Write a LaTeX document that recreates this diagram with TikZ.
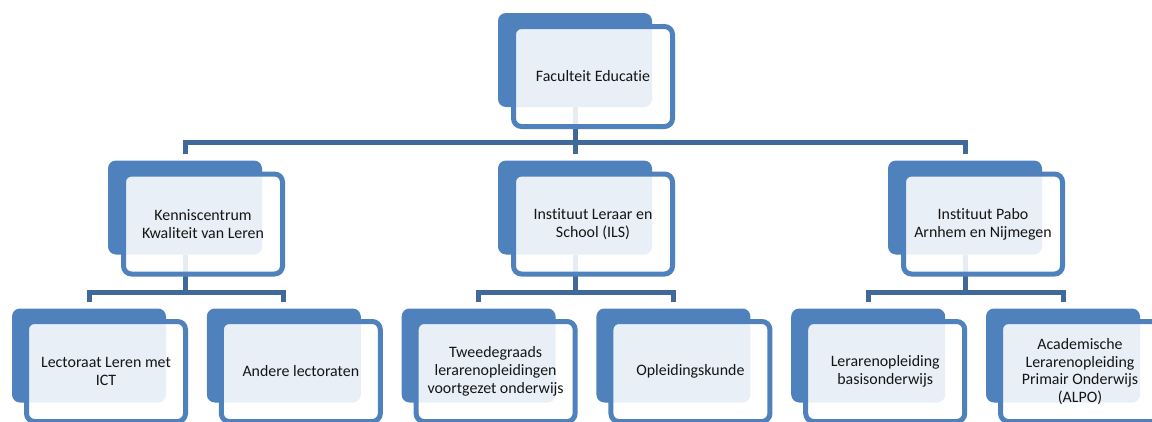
\documentclass[tikz,border=0pt]{standalone}
\usepackage{fontspec}
\setmainfont{Carlito}[Ligatures=NoCommon]
\definecolor{boxblue}{HTML}{4F81BD}
\definecolor{linkblue}{HTML}{41689B}
\definecolor{txt}{HTML}{141414}
\begin{document}
\begin{tikzpicture}[x=1pt,y=-1pt,
  back/.style={rectangle, rounded corners=8pt, fill=boxblue, draw=none,
    minimum width=154pt, minimum height=94pt, inner sep=0pt},
  front/.style={rectangle, rounded corners=8pt, draw=boxblue, line width=5pt,
    fill=white, fill opacity=0.88, text opacity=1, text=txt,
    minimum width=159pt, minimum height=100pt, inner sep=0pt, align=center,
    font=\fontsize{15.9}{17.8}\selectfont},
  conn/.style={draw=linkblue, line width=5pt}]
\useasboundingbox (0,0) rectangle (1152,421);
% back boxes
\node[back] (feB) at (575,60) {};
\node[back] (kcB) at (185,207.5) {};
\node[back] (ilsB) at (575,207.5) {};
\node[back] (paB) at (965,207.5) {};
\node[back] (lrB) at (89,355.5) {};
\node[back] (alB) at (283.8,355.5) {};
\node[back] (twB) at (478.6,355.5) {};
\node[back] (okB) at (673.4,355.5) {};
\node[back] (lbB) at (868.2,355.5) {};
\node[back] (acB) at (1063,355.5) {};
% buses
\coordinate (bus1) at (575,142);
\coordinate (bus2) at (185,292);
\coordinate (bus3) at (575,292);
\coordinate (bus4) at (965,292);
% connectors
\draw[conn] (feB.south) -- (bus1);
\draw[conn] ([yshift=6pt]kcB.north) |- (bus1);
\draw[conn] ([yshift=6pt]ilsB.north) -- (bus1);
\draw[conn] ([yshift=6pt]paB.north) |- (bus1);
\draw[conn] (kcB.south) -- (bus2);
\draw[conn] ([yshift=6pt]lrB.north) |- (bus2);
\draw[conn] ([yshift=6pt]alB.north) |- (bus2);
\draw[conn] (ilsB.south) -- (bus3);
\draw[conn] ([yshift=6pt]twB.north) |- (bus3);
\draw[conn] ([yshift=6pt]okB.north) |- (bus3);
\draw[conn] (paB.south) -- (bus4);
\draw[conn] ([yshift=6pt]lbB.north) |- (bus4);
\draw[conn] ([yshift=6pt]acB.north) |- (bus4);
% front boxes
\node[front] (fe) at (593,76.5) {Faculteit Educatie};
\node[front] (kc) at (203,224) {Kenniscentrum\\Kwaliteit van Leren};
\node[front] (ils) at (593,224) {Instituut Leraar en\\School (ILS)};
\node[front] (pa) at (983,224) {Instituut Pabo\\Arnhem en Nijmegen};
\node[front] (lr) at (106,371.5) {Lectoraat Leren met\\ICT};
\node[front] (al) at (300.8,371.5) {Andere lectoraten};
\node[front] (tw) at (495.6,371.5) {Tweedegraads\\lerarenopleidingen\\voortgezet onderwijs};
\node[front] (ok) at (690.4,371.5) {Opleidingskunde};
\node[front] (lb) at (885.2,371.5) {Lerarenopleiding\\basisonderwijs};
\node[front] (ac) at (1080,371.5) {Academische\\Lerarenopleiding\\Primair Onderwijs\\(ALPO)};
\end{tikzpicture}
\end{document}
